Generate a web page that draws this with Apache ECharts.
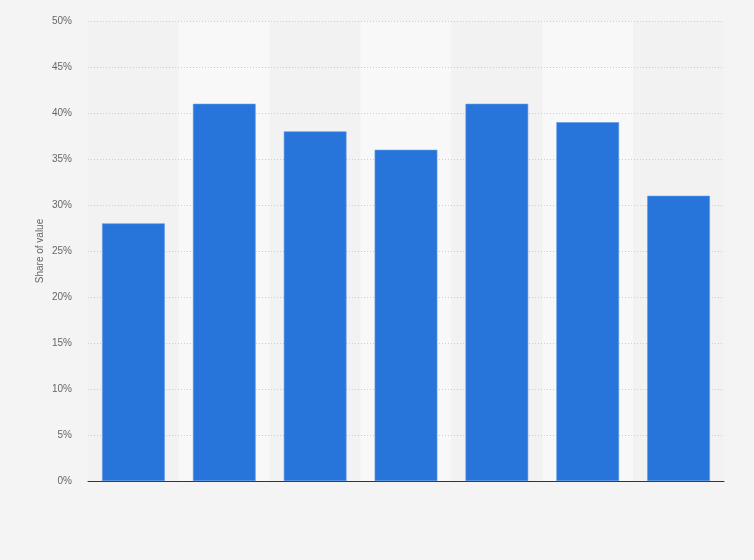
<!DOCTYPE html>
<html>
<head>
<meta charset="utf-8">
<script src="https://cdn.jsdelivr.net/npm/echarts@6/dist/echarts.min.js"></script>
<style>
html,body{margin:0;padding:0;background:#f4f4f4;}
#chart{width:754px;height:560px;}
</style>
</head>
<body>
<div id="chart"></div>
<script>
const categories = ['1', '2', '3', '4', '5', '6', '7'];
const shareValues = [28, 41, 38, 36, 41, 39, 31];
const yTicks = { min: 0, max: 50, interval: 5 };

const chart = echarts.init(document.getElementById('chart'));
chart.setOption({
  backgroundColor: '#f4f4f4',
  animation: false,
  grid: { left: 88, right: 30, top: 21, bottom: 79 },
  xAxis: {
    type: 'category',
    data: categories,
    z: 0,
    axisLine: { show: true, lineStyle: { color: '#333', width: 1 } },
    axisTick: { show: false },
    axisLabel: { show: false },
    splitArea: { show: true, areaStyle: { color: ['#f2f2f2', '#f8f8f8'] } }
  },
  yAxis: {
    type: 'value',
    z: 1,
    min: yTicks.min,
    max: yTicks.max,
    interval: yTicks.interval,
    name: 'Share of value',
    nameLocation: 'middle',
    nameGap: 43,
    nameMoveOverlap: false,
    nameTextStyle: { color: '#666', fontSize: 10, fontFamily: 'Arial, Liberation Sans, sans-serif' },
    axisLine: { show: false },
    axisTick: { show: false },
    axisLabel: {
      color: '#666', fontSize: 10, margin: 16,
      fontFamily: 'Arial, Liberation Sans, sans-serif',
      formatter: v => v + '%'
    },
    splitLine: { showMinLine: false, lineStyle: { color: '#cdcdcd', type: [1, 2], width: 1 } }
  },
  series: [{
    type: 'bar',
    z: 2,
    data: shareValues,
    barWidth: '69%',
    itemStyle: { color: '#2775da', borderColor: '#5e98e4', borderWidth: 0.6 }
  }]
});
</script>
</body>
</html>
